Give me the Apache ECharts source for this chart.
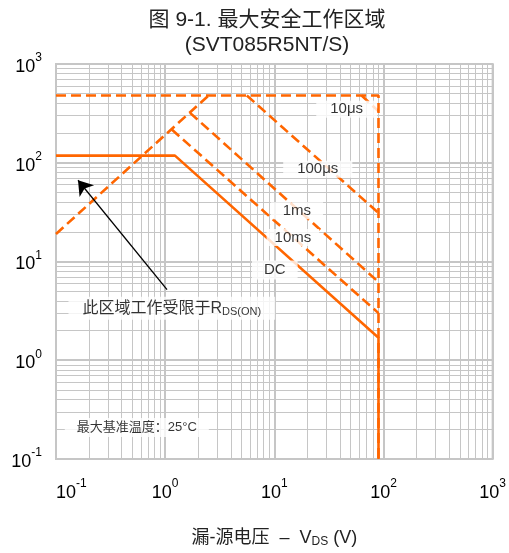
<!DOCTYPE html>
<html>
<head>
<meta charset="utf-8">
<script src="https://cdn.jsdelivr.net/npm/echarts@6/dist/echarts.min.js"></script>
<style>
html,body{margin:0;padding:0;background:#fff;}
#chart{width:509px;height:553px;}
</style>
</head>
<body>
<div id="chart"></div>
<script>
// ---- Data ----
const tickExponents = [-1, 0, 1, 2, 3];
const tickLabels = ['-1', '0', '1', '2', '3'];
const minorMultipliers = [2, 3, 4, 5, 6, 7, 8, 9];
const gridDecades = [0.1, 1, 10, 100];

// SOA boundaries: [VDS (V), ID (A)]
const boundaryLimit = [[0.1, 480], [90, 480], [90, 0.1]];
const rdsLimit = [[0.1, 19], [2.5, 480]];
const pulse10us = [[63, 480], [90, 332]];
const pulse100us = [[5.6, 480], [90, 31]];
const pulse1ms = [[1.69, 320], [90, 6.2]];
const pulse10ms = [[1.15, 217], [90, 3.0]];
const dcLimit = [[0.1, 118], [1.23, 118], [90, 1.69], [90, 0.1]];

// Annotation texts and anchor points (data coords)
const annotationTexts = ['10μs', '100μs', '1ms', '10ms', 'DC', '此区域工作受限于{r|R}{sub|DS(ON)}', '最大基准温度：25°C'];
const annotationAnchors = [[46, 348], [25, 86], [16.1, 32.7], [14.8, 17.5], [10.1, 8.2], [1.15, 3.36], [0.55, 0.208]];
const arrowFrom = [1.04, 5.2];
const arrowTo = [0.159, 66.5];

// ---- Chart ----
const FONT = '"Liberation Sans", Arial, "Noto Sans CJK SC", sans-serif';
const ORANGE = '#ff6600';
const GRID = '#c6c6c6';

const minorValues = [];
gridDecades.forEach(d => minorMultipliers.forEach(m => minorValues.push(+(m * d).toPrecision(3))));

function expLabel(v) {
  const e = Math.round(Math.log10(v));
  const idx = tickExponents.indexOf(e);
  return '{b|10}{s|' + (idx >= 0 ? tickLabels[idx] : e) + '}';
}
const tickRich = {
  b: {fontSize: 18, fontFamily: FONT, color: '#000', verticalAlign: 'bottom', lineHeight: 24},
  s: {fontSize: 12, fontFamily: FONT, color: '#000', verticalAlign: 'top', lineHeight: 24}
};

const dashed = {color: ORANGE, width: 2.6, type: [10, 5]};
function limitSeries(name, data, style) {
  return {
    name, type: 'line', data, showSymbol: false, symbol: 'none', z: 3,
    lineStyle: style, silent: true, animation: false
  };
}

const annotationStyles = [
  {fontSize: 15, padding: [1, 14]},
  {fontSize: 15, padding: [1, 14]},
  {fontSize: 15, padding: [1, 12]},
  {fontSize: 15, padding: [1, 8]},
  {fontSize: 15, padding: [2, 12]},
  {fontSize: 16, padding: [2, 14]},
  {fontSize: 13, padding: [3, 12]}
];

const annData = annotationAnchors.map((p, i) => ({
  value: p,
  label: Object.assign({
    show: true, position: 'inside', formatter: annotationTexts[i],
    color: '#000', fontFamily: FONT, backgroundColor: '#fff',
    rich: {
      r: {fontSize: 16, fontFamily: FONT, color: '#000'},
      sub: {fontSize: 11, fontFamily: FONT, color: '#000', padding: [8, 0, 0, 0]}
    }
  }, annotationStyles[i])
}));

const chart = echarts.init(document.getElementById('chart'), null, {renderer: 'canvas'});
chart.setOption({
  animation: false,
  backgroundColor: '#fff',
  title: {
    text: '图 9-1. 最大安全工作区域\n(SVT085R5NT/S)',
    left: 267, top: 8, textAlign: 'center', padding: 0,
    textStyle: {fontSize: 21, fontWeight: 'normal', lineHeight: 25, color: '#222', fontFamily: FONT}
  },
  grid: {left: 56, right: 16, top: 64, bottom: 88, show: true, borderColor: GRID, borderWidth: 2, backgroundColor: 'transparent'},
  xAxis: {
    type: 'log', logBase: 10, min: 0.1, max: 1000,
    axisLine: {show: false}, axisTick: {show: false},
    splitLine: {show: true, lineStyle: {color: GRID, width: 2}},
    axisLabel: {margin: 19, formatter: expLabel, rich: tickRich, alignMinLabel: 'left'},
    name: '漏-源电压  –  V{sub|DS} (V)', nameLocation: 'middle', nameGap: 69,
    nameTextStyle: {
      fontSize: 18, fontFamily: FONT, color: '#222',
      rich: {sub: {fontSize: 12, fontFamily: FONT, color: '#222', padding: [8, 0, 0, 0]}}
    }
  },
  yAxis: {
    type: 'log', logBase: 10, min: 0.1, max: 1000,
    axisLine: {show: false}, axisTick: {show: false},
    splitLine: {show: true, lineStyle: {color: GRID, width: 2}},
    axisLabel: {margin: 14, formatter: expLabel, rich: tickRich}
  },
  series: [
    {
      name: 'grid', type: 'line', data: [[0.1, 0.1]], symbol: 'none', z: 1, silent: true,
      lineStyle: {opacity: 0},
      markLine: {
        z: 1, zlevel: 0,
        silent: true, symbol: ['none', 'none'], animation: false,
        label: {show: false},
        lineStyle: {color: GRID, width: 1, type: 'solid'},
        emphasis: {disabled: true},
        data: minorValues.map(v => ({xAxis: v})).concat(minorValues.map(v => ({yAxis: v})))
      }
    },
    limitSeries('boundary', boundaryLimit, dashed),
    limitSeries('RDS(on)', rdsLimit, dashed),
    limitSeries('10us', pulse10us, dashed),
    limitSeries('100us', pulse100us, dashed),
    limitSeries('1ms', pulse1ms, dashed),
    limitSeries('10ms', pulse10ms, dashed),
    limitSeries('DC', dcLimit, {color: ORANGE, width: 2.6, type: 'solid'}),
    {
      name: 'annotations', type: 'scatter', data: annData, symbolSize: 0, z: 5, silent: true,
      markLine: {
        z: 6,
        silent: true, animation: false, symbol: ['none', 'arrow'], symbolSize: 14,
        label: {show: false}, emphasis: {disabled: true},
        lineStyle: {color: '#000', width: 1.3, type: 'solid'},
        data: [[{coord: arrowFrom}, {coord: arrowTo}]]
      }
    }
  ]
});
</script>
</body>
</html>
